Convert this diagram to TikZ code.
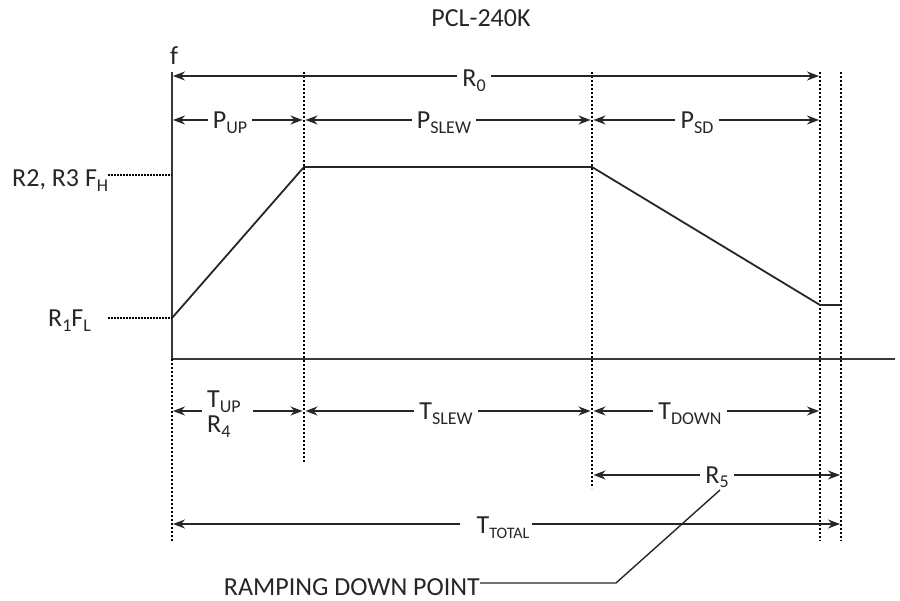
\documentclass[tikz,border=0pt]{standalone}
\usepackage{fontspec}
\setmainfont{Carlito}
\usetikzlibrary{arrows.meta}
\newcommand\sbx[1]{\raisebox{-5pt}{\fontsize{18}{18}\selectfont #1}}
\newcommand\sbs[1]{\raisebox{-5pt}{\fontsize{16}{16}\selectfont #1}}
\colorlet{ink}{black!85}
\begin{document}
\begin{tikzpicture}[x=1pt,y=-1pt,
  lbl/.style={inner xsep=5pt,inner ysep=0pt,anchor=base,font=\fontsize{26}{26}\selectfont,text=ink},
  dim/.style={line width=1.6pt,draw=ink,-{Stealth[length=12pt,width=9pt]}},
  axisline/.style={line width=2.4pt,draw=black!78,line join=miter},
  vdot/.style={line width=2pt,draw=black,dash pattern=on 2pt off 2pt},
  hdot/.style={line width=1.8pt,draw=black,dash pattern=on 1.5pt off 1.5pt},
  curve/.style={line width=1.8pt,draw=black!85,line join=miter},
  leader/.style={line width=1.4pt,draw=ink}]
\useasboundingbox (0,0) rectangle (900,601);

% title and axis labels
\node[lbl] (title) at (481,27) {PCL-240K};
\node[lbl] (f) at (174,65) {f};

% axes
\coordinate (ytop) at (172,72);
\coordinate (org) at (172,359);
\coordinate (xend) at (895,359);
\draw[axisline] (ytop) -- (org) -- (xend);

% dotted verticals
\coordinate (v1t) at (304,72);  \coordinate (v1b) at (304,462);
\coordinate (v2t) at (592,72);  \coordinate (v2b) at (592,488);
\coordinate (v3t) at (820,72);  \coordinate (v3b) at (820,541);
\coordinate (v4t) at (841,72);  \coordinate (v4b) at (841,541);
\coordinate (v0b) at (172,541);
\draw[vdot] (v1t) -- (v1b);
\draw[vdot] (v2t) -- (v2b);
\draw[vdot] (v3t) -- (v3b);
\draw[vdot] (v4t) -- (v4b);
\draw[vdot] (org) -- (v0b);

% frequency profile
\coordinate (fl) at (172,318);
\coordinate (k1) at (304,167);
\coordinate (k2) at (592,167);
\coordinate (k3) at (820,305);
\coordinate (k4) at (841,305);
\draw[curve] (fl) -- (k1) -- (k2) -- (k3) -- (k4);

% level labels
\node[lbl,anchor=base west] (fh) at (7,187) {R2, R3 F\sbx{H}};
\coordinate (fhs) at (108,175);
\coordinate (fhe) at (172,175);
\draw[hdot] (fhs) -- (fhe);
\node[lbl,anchor=base west] (flab) at (43,327) {R\sbx{1}F\sbx{L}};
\coordinate (fls) at (108,318);
\draw[hdot] (fls) -- (fl);

% R0
\coordinate (a0) at (173,76);
\coordinate (a3) at (819,76);
\node[lbl] (r0) at (474,87) {R\sbx{0}};
\draw[dim] (r0.west |- a0) -- (a0);
\draw[dim] (r0.east |- a3) -- (a3);

% P row
\coordinate (p0) at (173,120);
\coordinate (p1l) at (302.5,120);
\coordinate (p1r) at (305.5,120);
\coordinate (p2l) at (590.5,120);
\coordinate (p2r) at (593.5,120);
\coordinate (p3) at (819,120);
\node[lbl] (pup) at (230,129) {P\sbx{UP}};
\node[lbl] (pslew) at (444,129) {P\sbx{SLEW}};
\node[lbl] (psd) at (697,129) {P\sbx{SD}};
\draw[dim] (pup.west |- p0) -- (p0);
\draw[dim] (pup.east |- p1l) -- (p1l);
\draw[dim] (pslew.west |- p1r) -- (p1r);
\draw[dim] (pslew.east |- p2l) -- (p2l);
\draw[dim] (psd.west |- p2r) -- (p2r);
\draw[dim] (psd.east |- p3) -- (p3);

% T row
\coordinate (t0) at (173,411);
\coordinate (t1l) at (302.5,411);
\coordinate (t1r) at (305.5,411);
\coordinate (t2l) at (590.5,411);
\coordinate (t2r) at (593.5,411);
\coordinate (t3) at (819,411);
\node[lbl,anchor=base west] (tup) at (202,408) {T\sbx{UP}};
\node[lbl,anchor=base west] (r4) at (202,433) {R\sbx{4}};
\node[lbl] (tslew) at (446,420) {T\sbx{SLEW}};
\node[lbl] (tdown) at (690,420) {T\sbx{DOWN}};
\draw[dim] (tup.west |- t0) -- (t0);
\draw[dim] ([xshift=7pt]tup.east |- t1l) -- (t1l);
\draw[dim] (tslew.west |- t1r) -- (t1r);
\draw[dim] (tslew.east |- t2l) -- (t2l);
\draw[dim] (tdown.west |- t2r) -- (t2r);
\draw[dim] (tdown.east |- t3) -- (t3);

% R5
\coordinate (r5a) at (593.5,475);
\coordinate (r5b) at (840,475);
\node[lbl] (r5) at (717,483) {R\sbx{5}};
\draw[dim] (r5.west |- r5a) -- (r5a);
\draw[dim] (r5.east |- r5b) -- (r5b);

% T total
\coordinate (tt0) at (173,524);
\coordinate (tt4) at (840,524);
\node[lbl,inner xsep=2pt] (ttot) at (503,533) {T\sbs{TOTAL}};
\draw[dim] ([xshift=-14pt]ttot.west |- tt0) -- (tt0);
\draw[dim] (ttot.east |- tt4) -- (tt4);

% ramping down point
\node[lbl,anchor=base east,inner xsep=0pt] (ramp) at (480,595) {RAMPING DOWN POINT};
\coordinate (lead0) at (720,490);
\coordinate (kink) at (616,583);
\draw[leader] (lead0) -- (kink) -- (ramp.east |- kink);
\end{tikzpicture}
\end{document}
